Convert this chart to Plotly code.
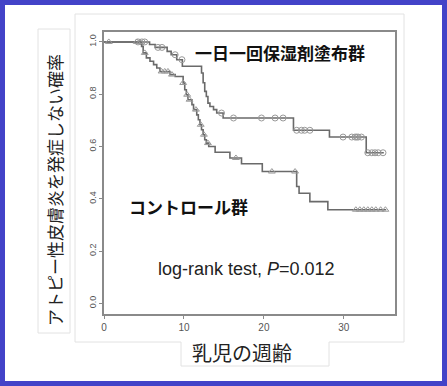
import numpy as np
import plotly.graph_objects as go

# ---------------- data ----------------
treat_name = "一日一回保湿剤塗布群"
ctrl_name = "コントロール群"

treat_times = [0, 5.7, 6.4, 7.9, 8.4, 9.1, 9.8, 12.2, 12.4, 12.6, 12.8, 13.0, 13.25, 13.7, 14.1, 14.9, 23.7, 28.2, 32.8]
treat_surv = [1.0, 0.99, 0.979, 0.964, 0.951, 0.932, 0.907, 0.881, 0.844, 0.811, 0.791, 0.766, 0.753, 0.741, 0.728, 0.709, 0.662, 0.636, 0.576]
treat_end = 35.0
treat_censor = [4.25, 4.75, 5.1, 6.75, 7.25, 8.9, 9.75, 14.7, 16.2, 19.7, 21.4, 22.4,
                24.1, 24.7, 25.1, 25.75, 29.9, 31.0, 31.4, 31.6, 31.8, 32.2,
                33.0, 33.5, 33.9, 34.3, 34.9]

ctrl_times = [0, 4.7, 4.9, 5.3, 5.75, 6.2, 6.6, 7.0, 8.25, 8.9, 9.9, 10.1, 10.3, 10.5, 11.0, 11.2,
              11.6, 11.8, 12.0, 12.2, 12.4, 12.6, 12.8, 13.1, 13.9, 15.75, 17.2, 19.8, 24.1, 24.4,
              25.75, 28.0]
ctrl_surv = [1.0, 0.983, 0.958, 0.939, 0.926, 0.913, 0.9, 0.887, 0.875, 0.868, 0.843, 0.817, 0.798,
             0.779, 0.76, 0.741, 0.721, 0.702, 0.683, 0.664, 0.645, 0.626, 0.613, 0.6, 0.578, 0.556,
             0.534, 0.504, 0.447, 0.421, 0.389, 0.358]
ctrl_end = 35.3
ctrl_censor = [0.6, 4.1, 4.5, 5.1, 7.2, 7.6, 8.0, 8.5, 9.9, 10.4, 10.7, 11.5, 12.1, 12.5, 13.0,
               16.5, 21.0, 23.9, 31.5, 32.0, 32.5, 33.0, 33.5, 34.0, 34.6, 35.2]

x_ticks = [0, 10, 20, 30]
y_ticks = [0.0, 0.2, 0.4, 0.6, 0.8, 1.0]
y_ticktext = ["0.0", "0.2", "0.4", "0.6", "0.8", "1.0"]

y_title = "アトピー性皮膚炎を発症しない確率"
x_title = "乳児の週齢"
test_text = "log-rank test, <i>P</i>=0.012"

# ---------------- helpers ----------------
W, H = 447, 386
L, R, T, B = 104, 395, 32, 314


def px(xp):
    return (xp - L) / (R - L)


def py(yp):
    return (B - yp) / (B - T)


def surv_at(times, surv, t):
    idx = np.searchsorted(np.array(times), np.array(t), side="right") - 1
    return list(np.array(surv)[idx])


line_col = "#6a6a6a"
mark_col = "#999999"

fig = go.Figure()
for times, surv, end, cens, sym, name in [
    (treat_times, treat_surv, treat_end, treat_censor, "circle-open", treat_name),
    (ctrl_times, ctrl_surv, ctrl_end, ctrl_censor, "triangle-up-open", ctrl_name),
]:
    fig.add_trace(go.Scatter(x=times + [end], y=surv + [surv[-1]], mode="lines",
                             line=dict(color=line_col, width=1.6, shape="hv"),
                             name=name, showlegend=False, hoverinfo="skip"))
    fig.add_trace(go.Scatter(x=cens, y=surv_at(times, surv, cens), mode="markers",
                             marker=dict(symbol=sym, size=6, color=mark_col, line=dict(width=1, color=mark_col)),
                             showlegend=False, hoverinfo="skip"))

shapes = [
    dict(type="path", xref="paper", yref="paper",
         path=f"M {px(75)} {py(14)} L {px(404)} {py(14)} L {px(404)} {py(342)} L {px(329)} {py(342)} "
              f"L {px(329)} {py(366)} L {px(181)} {py(366)} L {px(181)} {py(342)} L {px(75)} {py(342)} Z",
         line=dict(color="#e2e2e2", width=1), layer="below"),
    dict(type="rect", xref="paper", yref="paper", x0=px(38), x1=px(70), y0=py(29), y1=py(333),
         line=dict(color="#e2e2e2", width=1), layer="below"),
    dict(type="rect", xref="paper", yref="paper", x0=px(2.5), x1=px(444.5), y0=py(2.5), y1=py(383.5),
         line=dict(color="#4343c8", width=5), layer="above"),
]

cjk = "Noto Sans CJK JP"


def ann(text, x, y, font, **kw):
    return dict(text=text, x=px(x), y=py(y), xref="paper", yref="paper", showarrow=False,
                xanchor="center", yanchor="middle", font=font, **kw)


annotations = [
    ann(f"<b>{treat_name}</b>", 280, 52, dict(family=cjk, size=17, color="#111")),
    ann(f"<b>{ctrl_name}</b>", 188, 206, dict(family=cjk, size=17, color="#111")),
    ann(test_text, 246, 269, dict(family="Liberation Sans", size=18, color="#222")),
    ann(y_title, 54, 190, dict(family=cjk, size=17, color="#222"), textangle=-90),
    ann(x_title, 242, 352, dict(family=cjk, size=20, color="#222")),
]

fig.update_layout(
    width=W, height=H,
    margin=dict(l=L, r=W - R, t=T, b=H - B),
    paper_bgcolor="white", plot_bgcolor="white",
    shapes=shapes, annotations=annotations,
    xaxis=dict(range=[0, 36.4], tickvals=x_ticks, showgrid=False, zeroline=False,
               showline=True, mirror=True, linecolor="#8a8a8a", linewidth=1.5,
               ticks="outside", ticklen=3, tickcolor="#8a8a8a",
               tickfont=dict(family="Liberation Sans", size=10, color="#555")),
    yaxis=dict(range=[-0.041, 1.038], tickvals=y_ticks, ticktext=y_ticktext, tickangle=-90,
               showgrid=False, zeroline=False,
               showline=True, mirror=True, linecolor="#8a8a8a", linewidth=1.5,
               ticks="outside", ticklen=3, tickcolor="#8a8a8a",
               tickfont=dict(family="Liberation Sans", size=9, color="#555")),
)

fig.write_html("out.html", config={"displayModeBar": False},
               post_script="document.body.style.margin='0';document.body.style.overflow='hidden';")
